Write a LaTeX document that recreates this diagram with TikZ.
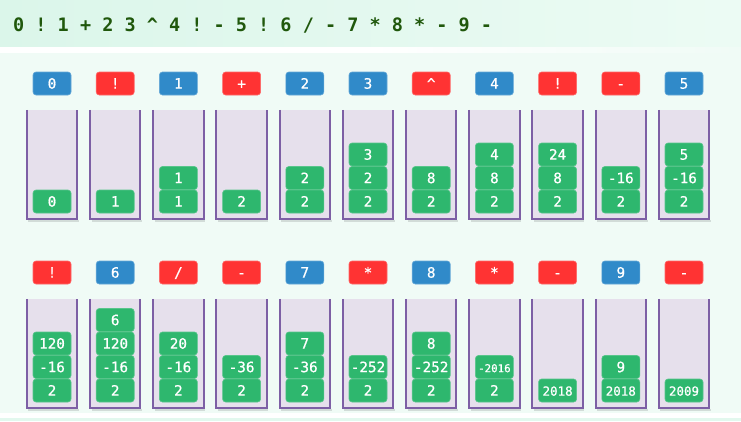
\documentclass[tikz,border=0pt]{standalone}
\usepackage{fontspec}
\setmonofont{DejaVu Sans Mono}
\newfontfamily\boxfont[FakeBold=0.7]{DejaVu Sans Mono}
\definecolor{mainbg}{RGB}{240,251,246}
\definecolor{headL}{RGB}{219,246,234}
\definecolor{headR}{RGB}{236,251,244}
\definecolor{bandbg}{RGB}{226,248,238}
\definecolor{headtxt}{RGB}{32,88,12}
\definecolor{tokblue}{RGB}{48,138,201}
\definecolor{tokred}{RGB}{255,51,51}
\definecolor{valgreen}{RGB}{46,183,110}
\definecolor{cfill}{RGB}{230,224,236}
\definecolor{cline}{RGB}{125,95,165}
\newcommand\vmd[1]{{\fontsize{12.5}{14}\selectfont #1}}
\newcommand\vsm[1]{{\fontsize{10.8}{12}\selectfont #1}}
\tikzset{
  boxbase/.style={rounded corners=3pt, minimum width=38pt, minimum height=23pt, inner sep=0pt,
    text=white, font=\boxfont\fontsize{14.3}{16}\selectfont, text height=10.3pt, text depth=0pt, line width=0.6pt},
  numtok/.style={boxbase, fill=tokblue, draw=tokblue!75!white},
  optok/.style={boxbase, fill=tokred, draw=tokred!75!white},
  valbox/.style={boxbase, fill=valgreen, draw=valgreen!80!white},
  container/.style={fill=cfill, minimum width=50pt, minimum height=109pt, inner sep=0pt},
  cborder/.style={draw=cline, line width=2pt},
  cshadow/.style={draw=black, opacity=0.12, line width=2pt},
}
\newcommand\stackcol[5]{%
  \pgfmathsetmacro\cx{52+63.2*#2}%
  \pgfmathsetmacro\cy{#1*189}%
  \node[#4] (t-#1-#2) at (\cx,83.5+\cy) {#3};
  \node[container] (c-#1-#2) at (\cx,164.5+\cy) {};
  \draw[cshadow] ([xshift=1.5pt,yshift=-2pt]c-#1-#2.south west) -- ([xshift=1.5pt,yshift=-2pt]c-#1-#2.south east);
  \draw[cborder] (c-#1-#2.north west) -- (c-#1-#2.south west) -- (c-#1-#2.south east) -- (c-#1-#2.north east);
  \foreach \v [count=\k from 0] in {#5} {
    \node[valbox] (s-#1-#2-\k) at (\cx,201.5-23.5*\k+\cy) {\v};
  }
}
\begin{document}
\begin{tikzpicture}[x=1pt,y=-1pt]
\useasboundingbox (0,0) rectangle (741,421);
\fill[mainbg] (0,0) rectangle (741,421);
\shade[left color=headL, right color=headR] (0,0) rectangle (741,47.5);
\shade[left color=white, right color=mainbg, middle color=white] (0,47.5) rectangle (741,52.5);
\fill[white] (0,412.5) rectangle (741,417.5);
\fill[bandbg] (0,417.5) rectangle (741,421);
\node[anchor=base west, inner sep=0pt, text=headtxt, font=\ttfamily\bfseries\fontsize{18.5}{22}\selectfont] (expr) at (13,31.7) {0 ! 1 + 2 3 \^{} 4 ! - 5 ! 6 / - 7 * 8 * - 9 -};
% row 1
\stackcol{0}{0}{0}{numtok}{0}
\stackcol{0}{1}{!}{optok}{1}
\stackcol{0}{2}{1}{numtok}{1,1}
\stackcol{0}{3}{+}{optok}{2}
\stackcol{0}{4}{2}{numtok}{2,2}
\stackcol{0}{5}{3}{numtok}{2,2,3}
\stackcol{0}{6}{\^{}}{optok}{2,8}
\stackcol{0}{7}{4}{numtok}{2,8,4}
\stackcol{0}{8}{!}{optok}{2,8,24}
\stackcol{0}{9}{-}{optok}{2,-16}
\stackcol{0}{10}{5}{numtok}{2,-16,5}
% row 2
\stackcol{1}{0}{!}{optok}{2,-16,120}
\stackcol{1}{1}{6}{numtok}{2,-16,120,6}
\stackcol{1}{2}{/}{optok}{2,-16,20}
\stackcol{1}{3}{-}{optok}{2,-36}
\stackcol{1}{4}{7}{numtok}{2,-36,7}
\stackcol{1}{5}{*}{optok}{2,-252}
\stackcol{1}{6}{8}{numtok}{2,-252,8}
\stackcol{1}{7}{*}{optok}{2,\vsm{-2016}}
\stackcol{1}{8}{-}{optok}{\vmd{2018}}
\stackcol{1}{9}{9}{numtok}{\vmd{2018},9}
\stackcol{1}{10}{-}{optok}{\vmd{2009}}
\end{tikzpicture}
\end{document}
